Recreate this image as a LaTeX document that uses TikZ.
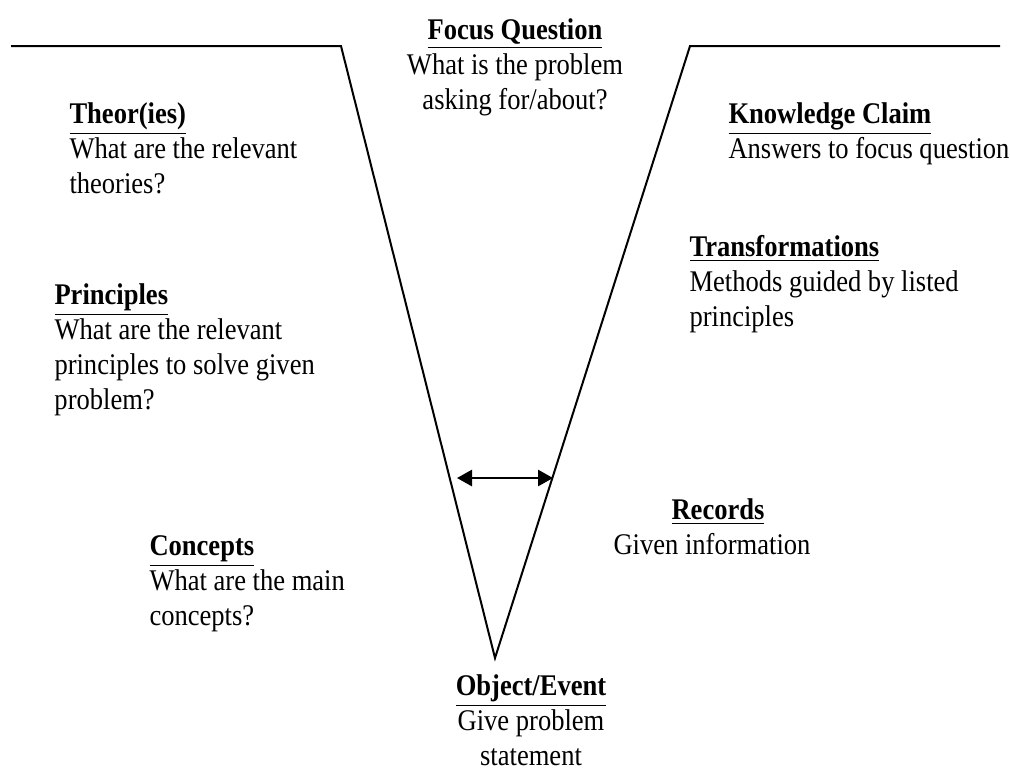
\documentclass[tikz,border=0pt]{standalone}
\usepackage{fontspec}
\setmainfont{Liberation Serif}[FakeStretch=0.885]
\usetikzlibrary{arrows.meta}

\tikzset{
  vline/.style={line width=0.8pt},
  part/.style={inner sep=0pt, align=left, anchor=north west, font=\fontsize{12}{14}\selectfont},
  partc/.style={part, align=center, anchor=north},
}
\newcommand{\parthead}[1]{\underline{\textbf{#1}}}

\begin{document}
\begin{tikzpicture}[x=0.4pt,y=-0.4pt]
  \useasboundingbox (0,0) rectangle (1010,769);

  % vee outline
  \coordinate (leftend) at (11,46);
  \coordinate (leftrim) at (341,46);
  \coordinate (tip) at (495,658);
  \coordinate (rightrim) at (690,46);
  \coordinate (rightend) at (1000,46);
  \draw [vline] (leftend) -- (leftrim) -- (tip) -- (rightrim) -- (rightend);

  % interplay arrow
  \coordinate (arrowL) at (457,478);
  \coordinate (arrowR) at (553,478);
  \draw [vline,{Triangle[length=6pt,width=6.5pt]}-{Triangle[length=6pt,width=6.5pt]}] (arrowL) -- (arrowR);

  % top and bottom
  \node [partc] (focus) at (515,18) {\parthead{Focus Question}\\What is the problem\\asking for/about?};
  \node [partc] (object) at (531,674) {\parthead{Object/Event}\\Give problem\\statement};

  % thinking side
  \node [part] (theory) at (69,102) {\parthead{Theor(ies)}\\What are the relevant\\theories?};
  \node [part] (principles) at (54,283) {\parthead{Principles}\\What are the relevant\\principles to solve given\\problem?};
  \node [part] (concepts) at (149,535) {\parthead{Concepts}\\What are the main\\concepts?};

  % doing side
  \node [part] (claim) at (728,102) {\parthead{Knowledge Claim}\\Answers to focus question};
  \node [part] (transform) at (689,235) {\parthead{Transformations}\\Methods guided by listed\\principles};
  \node [partc] (records) at (712,498) {\hspace*{4.8pt}\parthead{Records}\\Given information};
\end{tikzpicture}
\end{document}
